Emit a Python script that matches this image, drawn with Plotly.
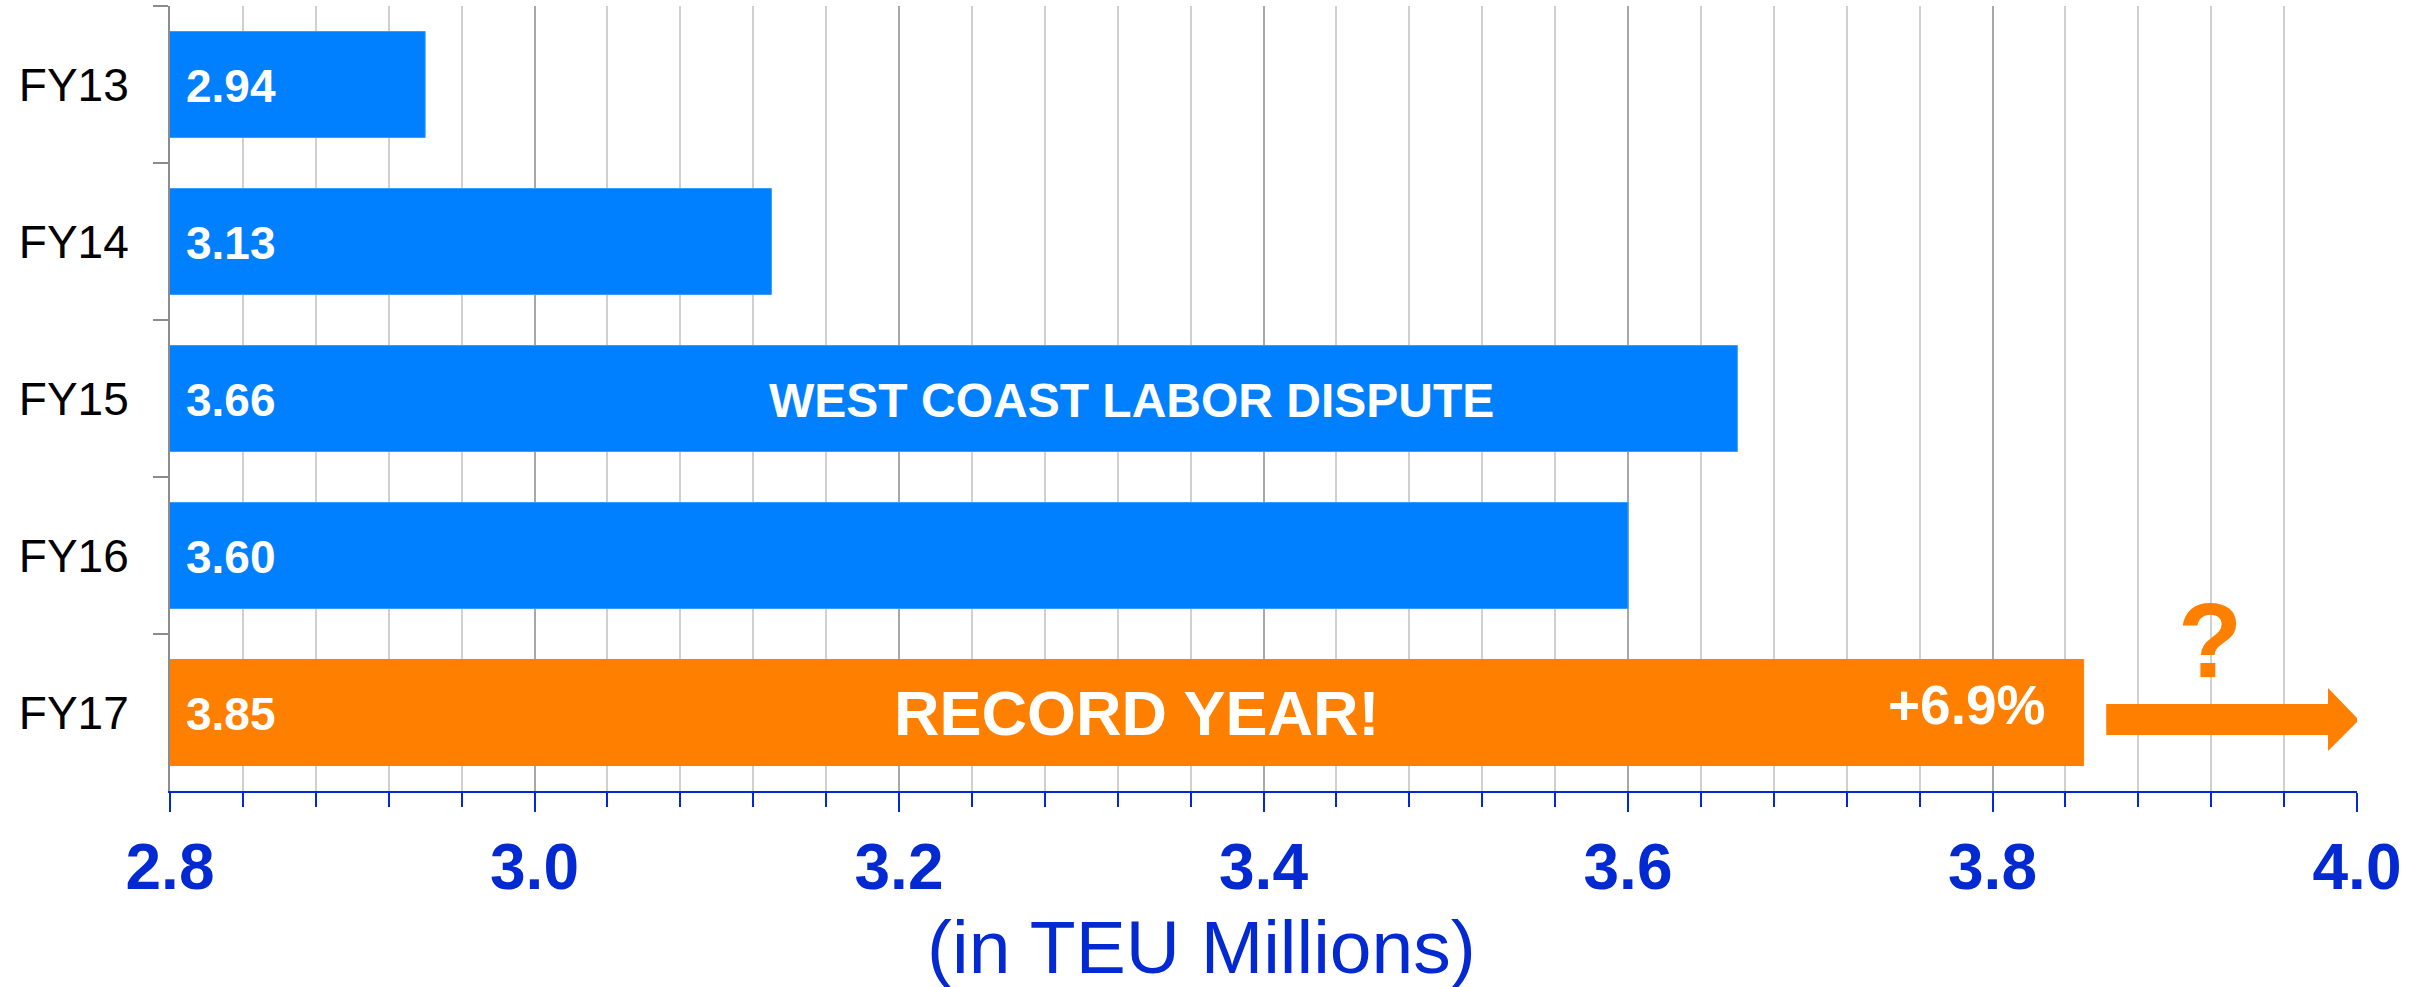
import plotly.graph_objects as go

# ---- data ----
years = ["FY13", "FY14", "FY15", "FY16", "FY17"]
teu_millions = [2.94, 3.13, 3.66, 3.60, 3.85]
bar_colors = ["#0080FF", "#0080FF", "#0080FF", "#0080FF", "#FF7F00"]
x_range = [2.8, 4.0]
x_title = "(in TEU Millions)"
growth_label = "+6.9%"
notes = {"FY15": "WEST COAST LABOR DISPUTE", "FY17": "RECORD YEAR!"}

FONT = "Liberation Sans, Arial, sans-serif"
BLUE = "#0229D2"
ORANGE = "#FF7F00"

fig = go.Figure()
fig.add_trace(go.Bar(
    y=years, x=teu_millions, orientation="h",
    base=0,
    marker=dict(color=bar_colors, line=dict(color=["#3A9BFF"] * 4 + [ORANGE], width=1)),
    hoverinfo="x+y",
))

annotations = []
# value labels inside bars, at bar start
for yr, v in zip(years, teu_millions):
    annotations.append(dict(
        x=x_range[0], y=yr, xref="x", yref="y", text=f"{v:.2f}",
        showarrow=False, xanchor="left", yanchor="middle", xshift=14, yshift=-1,
        font=dict(family=FONT, size=46, color="white", weight="bold"),
    ))

annotations.append(dict(x=3.3276, y="FY15", xref="x", yref="y", text=notes["FY15"],
                        showarrow=False, xanchor="center", yanchor="middle", yshift=-2,
                        font=dict(family=FONT, size=48, color="white", weight="bold")))
annotations.append(dict(x=3.3304, y="FY17", xref="x", yref="y", text=notes["FY17"],
                        showarrow=False, xanchor="center", yanchor="middle",
                        font=dict(family=FONT, size=63, color="white", weight="bold")))
annotations.append(dict(x=3.7856, y="FY17", xref="x", yref="y", text=growth_label,
                        showarrow=False, xanchor="center", yanchor="middle", yshift=8,
                        font=dict(family=FONT, size=55, color="white", weight="bold")))
annotations.append(dict(x=3.9196, y=(791 - 640) / 785, xref="x", yref="paper", text="?",
                        showarrow=False, xanchor="center", yanchor="middle",
                        font=dict(family=FONT, size=105, color=ORANGE, weight="bold")))
annotations.append(dict(x=3.366, y=-(947 - 791) / 785, xref="x", yref="paper", text=x_title,
                        showarrow=False, xanchor="center", yanchor="middle",
                        font=dict(family=FONT, size=75, color=BLUE)))

# block arrow (data x, paper y)
sx0, hx, tip = 3.8624, 3.9841, 4.0011
st, sb, ht, hb, ty = 0.1108, 0.0713, 0.1312, 0.0510, 0.0904
path = (f"M {sx0},{st} L {hx},{st} L {hx},{ht} L {tip},{ty} "
        f"L {hx},{hb} L {hx},{sb} L {sx0},{sb} Z")
shapes = [dict(type="path", path=path, xref="x", yref="paper",
               fillcolor=ORANGE, line=dict(color=ORANGE, width=0), layer="above")]

fig.update_layout(
    width=2430, height=987,
    margin=dict(l=170, r=73, t=6, b=196, autoexpand=False),
    plot_bgcolor="white", paper_bgcolor="white",
    bargap=0.325, showlegend=False,
    annotations=annotations, shapes=shapes,
    font=dict(family=FONT),
)
fig.update_xaxes(
    range=x_range, tick0=2.8, dtick=0.2, tickformat=".1f",
    showgrid=True, gridcolor="#A8A8A8", gridwidth=1.5,
    showline=True, linecolor=BLUE, linewidth=2,
    ticks="outside", ticklen=19, tickwidth=2, tickcolor=BLUE,
    tickfont=dict(family=FONT, size=64, color=BLUE, weight="bold"),
    ticklabelstandoff=0, automargin=False,
    minor=dict(dtick=0.04, tick0=2.8, showgrid=True, gridcolor="#D0D0D0", gridwidth=1.5,
               ticks="outside", ticklen=14, tickwidth=1.5, tickcolor=BLUE),
    zeroline=False, fixedrange=True,
)
fig.update_yaxes(
    type="category", categoryorder="array", categoryarray=years, autorange="reversed",
    showgrid=False, showline=True, linecolor="#8C8C8C", linewidth=2,
    ticks="outside", tickson="boundaries", ticklen=15, tickwidth=2, tickcolor="#8C8C8C",
    tickfont=dict(family=FONT, size=46, color="black"),
    ticklabelstandoff=30, automargin=False, zeroline=False, fixedrange=True,
)

fig.write_html(
    "out.html",
    config={"displayModeBar": False},
    post_script="document.body.style.margin='0';document.body.style.overflow='hidden';",
)
